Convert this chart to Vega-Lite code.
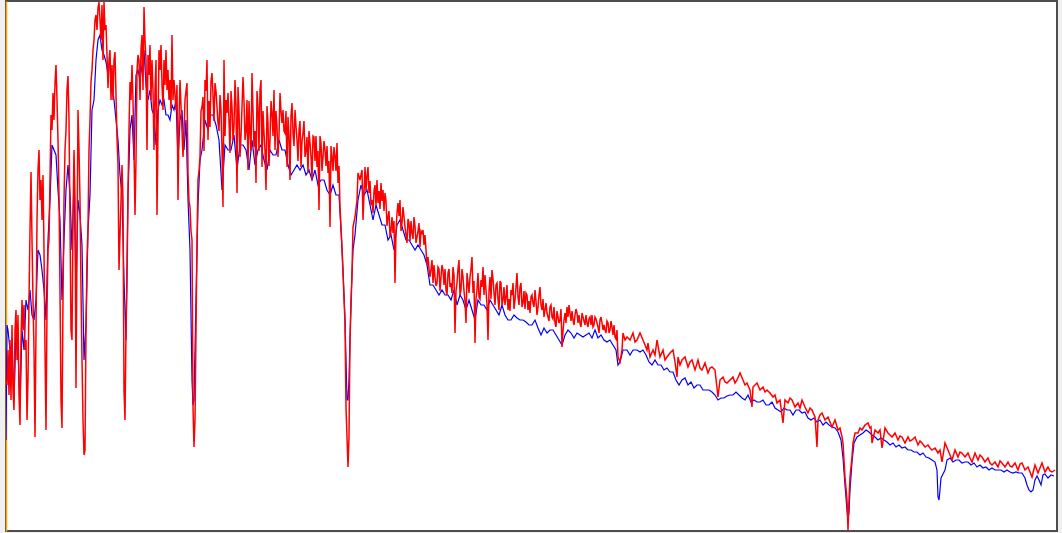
{
"$schema":"https://vega.github.io/schema/vega-lite/v6.json",
"width":1051,"height":530,
"autosize":{"type":"none"},
"padding":{"left":6,"top":1,"right":5,"bottom":2},
"background":"#f0f0f0",
"config":{"view":{"fill":"white","stroke":"#4d4d4d","strokeWidth":2}},
"datasets":{
"blue":[
{"ch":6,"flux":91},{"ch":7,"flux":206},{"ch":8,"flux":201},{"ch":10,"flux":181},{"ch":12,"flux":186},{"ch":14,"flux":131},{"ch":16,"flux":201},{"ch":18,"flux":181},{"ch":20,"flux":126},{"ch":22,"flux":201},{"ch":24,"flux":181},{"ch":26,"flux":231},{"ch":28,"flux":221},{"ch":30,"flux":241},{"ch":32,"flux":216},{"ch":34,"flux":211},{"ch":36,"flux":231},{"ch":38,"flux":281},{"ch":40,"flux":276},{"ch":42,"flux":261},{"ch":44,"flux":241},{"ch":46,"flux":211},{"ch":48,"flux":291},{"ch":50,"flux":331},{"ch":52,"flux":386},{"ch":54,"flux":381},{"ch":56,"flux":376},{"ch":58,"flux":341},{"ch":60,"flux":311},{"ch":62,"flux":231},{"ch":64,"flux":291},{"ch":66,"flux":341},{"ch":68,"flux":366},{"ch":70,"flux":336},{"ch":72,"flux":281},{"ch":74,"flux":351},{"ch":76,"flux":241},{"ch":78,"flux":331},{"ch":80,"flux":316},{"ch":82,"flux":286},{"ch":84,"flux":171},{"ch":86,"flux":206},{"ch":88,"flux":301},{"ch":90,"flux":336},{"ch":92,"flux":421},{"ch":94,"flux":431},{"ch":96,"flux":471},{"ch":98,"flux":491},{"ch":100,"flux":496},{"ch":102,"flux":481},{"ch":104,"flux":476},{"ch":106,"flux":469},{"ch":108,"flux":456},{"ch":110,"flux":471},{"ch":112,"flux":446},{"ch":114,"flux":431},{"ch":116,"flux":411},{"ch":118,"flux":391},{"ch":120,"flux":356},{"ch":122,"flux":336},{"ch":124,"flux":251},{"ch":126,"flux":191},{"ch":128,"flux":336},{"ch":130,"flux":401},{"ch":132,"flux":416},{"ch":134,"flux":371},{"ch":136,"flux":456},{"ch":138,"flux":461},{"ch":140,"flux":451},{"ch":142,"flux":466},{"ch":144,"flux":481},{"ch":146,"flux":446},{"ch":148,"flux":431},{"ch":150,"flux":441},{"ch":152,"flux":421},{"ch":154,"flux":416},{"ch":156,"flux":386},{"ch":158,"flux":421},{"ch":160,"flux":431},{"ch":162,"flux":426},{"ch":164,"flux":431},{"ch":166,"flux":416},{"ch":168,"flux":416},{"ch":170,"flux":411},{"ch":172,"flux":426},{"ch":174,"flux":421},{"ch":176,"flux":431},{"ch":178,"flux":371},{"ch":180,"flux":411},
{"ch":182,"flux":421},{"ch":184,"flux":381},{"ch":186,"flux":411},{"ch":188,"flux":331},{"ch":190,"flux":281},{"ch":192,"flux":151},{"ch":193,"flux":126},{"ch":194,"flux":131},{"ch":196,"flux":231},{"ch":198,"flux":326},{"ch":200,"flux":371},{"ch":202,"flux":381},{"ch":205,"flux":411},{"ch":208,"flux":401},{"ch":210,"flux":416},{"ch":213,"flux":416},{"ch":216,"flux":406},{"ch":219,"flux":391},{"ch":222,"flux":341},{"ch":225,"flux":386},{"ch":228,"flux":381},{"ch":231,"flux":381},{"ch":234,"flux":396},{"ch":237,"flux":361},{"ch":240,"flux":386},{"ch":243,"flux":386},{"ch":246,"flux":381},{"ch":249,"flux":361},{"ch":252,"flux":391},{"ch":255,"flux":366},{"ch":258,"flux":381},{"ch":261,"flux":386},{"ch":264,"flux":371},{"ch":267,"flux":361},{"ch":270,"flux":381},{"ch":273,"flux":376},{"ch":276,"flux":376},{"ch":279,"flux":391},{"ch":282,"flux":381},{"ch":285,"flux":381},{"ch":288,"flux":366},{"ch":291,"flux":356},{"ch":294,"flux":361},{"ch":297,"flux":366},{"ch":300,"flux":361},{"ch":303,"flux":366},{"ch":306,"flux":356},{"ch":309,"flux":361},{"ch":312,"flux":351},{"ch":315,"flux":361},{"ch":318,"flux":346},{"ch":321,"flux":351},{"ch":324,"flux":351},{"ch":327,"flux":341},{"ch":330,"flux":336},{"ch":333,"flux":346},{"ch":336,"flux":336},{"ch":339,"flux":336},{"ch":341,"flux":301},{"ch":343,"flux":261},{"ch":345,"flux":211},{"ch":347,"flux":131},{"ch":348,"flux":131},{"ch":349,"flux":151},{"ch":351,"flux":231},{"ch":353,"flux":281},{"ch":355,"flux":296},{"ch":358,"flux":331},{"ch":361,"flux":346},{"ch":364,"flux":336},{"ch":367,"flux":341},{"ch":370,"flux":326},{"ch":373,"flux":311},{"ch":376,"flux":326},{"ch":379,"flux":316},{"ch":382,"flux":306},{"ch":385,"flux":306},{"ch":388,"flux":291},{"ch":391,"flux":296},{"ch":394,"flux":281},{"ch":397,"flux":306},{"ch":400,"flux":311},{"ch":403,"flux":301},{"ch":406,"flux":291},{"ch":409,"flux":291},{"ch":412,"flux":286},{"ch":415,"flux":281},{"ch":418,"flux":286},{"ch":421,"flux":281},{"ch":424,"flux":276},{"ch":427,"flux":266},{"ch":430,"flux":246},{"ch":433,"flux":246},{"ch":436,"flux":241},{"ch":439,"flux":236},{"ch":442,"flux":241},{"ch":445,"flux":236},{"ch":448,"flux":236},{"ch":451,"flux":231},{"ch":454,"flux":241},{"ch":457,"flux":226},{"ch":460,"flux":236},{"ch":463,"flux":231},{"ch":466,"flux":221},{"ch":469,"flux":231},{"ch":472,"flux":221},{"ch":475,"flux":211},{"ch":478,"flux":231},{"ch":481,"flux":226},{"ch":484,"flux":226},{"ch":487,"flux":221},{"ch":490,"flux":231},{"ch":493,"flux":226},{"ch":496,"flux":221},{"ch":499,"flux":216},{"ch":502,"flux":226},{"ch":505,"flux":216},{"ch":508,"flux":211},{"ch":511,"flux":211},{"ch":514,"flux":216},{"ch":517,"flux":213},{"ch":520,"flux":211},{"ch":523,"flux":211},{"ch":526,"flux":209},{"ch":529,"flux":206},{"ch":532,"flux":206},{"ch":535,"flux":211},{"ch":538,"flux":203},{"ch":541,"flux":196},{"ch":544,"flux":203},{"ch":547,"flux":198},{"ch":550,"flux":201},{"ch":553,"flux":201},{"ch":556,"flux":196},{"ch":559,"flux":191},{"ch":562,"flux":186},{"ch":565,"flux":196},{"ch":568,"flux":201},{"ch":571,"flux":198},{"ch":574,"flux":193},{"ch":577,"flux":198},{"ch":580,"flux":196},{"ch":583,"flux":194},{"ch":586,"flux":196},{"ch":589,"flux":198},{"ch":592,"flux":193},{"ch":595,"flux":201},{"ch":598,"flux":193},{"ch":601,"flux":196},{"ch":604,"flux":191},{"ch":607,"flux":189},{"ch":610,"flux":191},{"ch":613,"flux":186},{"ch":616,"flux":181},{"ch":618,"flux":166},{"ch":620,"flux":169},{"ch":623,"flux":181},{"ch":627,"flux":181},{"ch":630,"flux":176},{"ch":633,"flux":181},{"ch":637,"flux":181},{"ch":640,"flux":179},{"ch":643,"flux":181},{"ch":646,"flux":176},{"ch":649,"flux":169},{"ch":652,"flux":166},{"ch":655,"flux":171},{"ch":658,"flux":166},{"ch":661,"flux":166},{"ch":664,"flux":161},{"ch":667,"flux":163},{"ch":670,"flux":159},{"ch":673,"flux":159},{"ch":676,"flux":151},{"ch":679,"flux":146},{"ch":682,"flux":151},{"ch":685,"flux":153},{"ch":688,"flux":146},{"ch":691,"flux":149},{"ch":694,"flux":143},{"ch":697,"flux":146},{"ch":700,"flux":146},{"ch":703,"flux":141},{"ch":706,"flux":141},{"ch":709,"flux":141},{"ch":712,"flux":139},{"ch":715,"flux":136},{"ch":718,"flux":131},{"ch":721,"flux":133},{"ch":724,"flux":133},{"ch":727,"flux":135},{"ch":730,"flux":136},{"ch":733,"flux":136},{"ch":736,"flux":139},{"ch":739,"flux":136},{"ch":742,"flux":133},{"ch":745,"flux":131},{"ch":748,"flux":136},{"ch":751,"flux":129},{"ch":754,"flux":131},{"ch":757,"flux":129},{"ch":760,"flux":129},{"ch":763,"flux":131},{"ch":766,"flux":126},{"ch":769,"flux":126},{"ch":772,"flux":129},{"ch":775,"flux":123},{"ch":778,"flux":121},{"ch":781,"flux":119},{"ch":784,"flux":123},{"ch":787,"flux":121},{"ch":790,"flux":121},{"ch":793,"flux":116},{"ch":796,"flux":121},{"ch":799,"flux":121},{"ch":802,"flux":118},{"ch":805,"flux":119},{"ch":808,"flux":113},{"ch":811,"flux":111},{"ch":814,"flux":113},{"ch":817,"flux":109},{"ch":820,"flux":111},{"ch":823,"flux":106},{"ch":826,"flux":109},{"ch":829,"flux":106},{"ch":832,"flux":104},{"ch":835,"flux":103},{"ch":838,"flux":99},{"ch":841,"flux":91},{"ch":843,"flux":73},{"ch":845,"flux":46},{"ch":847,"flux":21},{"ch":848,"flux":11},{"ch":849,"flux":19},{"ch":850,"flux":41},{"ch":852,"flux":69},{"ch":854,"flux":88},{"ch":857,"flux":94},{"ch":860,"flux":96},{"ch":863,"flux":98},{"ch":866,"flux":101},{"ch":869,"flux":99},{"ch":872,"flux":96},{"ch":875,"flux":94},{"ch":878,"flux":91},{"ch":881,"flux":93},{"ch":884,"flux":91},{"ch":887,"flux":89},{"ch":890,"flux":86},{"ch":893,"flux":88},{"ch":896,"flux":84},{"ch":899,"flux":86},{"ch":902,"flux":83},{"ch":905,"flux":84},{"ch":908,"flux":81},{"ch":911,"flux":81},{"ch":914,"flux":79},{"ch":917,"flux":79},{"ch":920,"flux":76},{"ch":923,"flux":78},{"ch":926,"flux":74},{"ch":929,"flux":73},{"ch":932,"flux":71},{"ch":935,"flux":69},{"ch":937,"flux":61},{"ch":938,"flux":34},{"ch":939,"flux":31},{"ch":940,"flux":41},{"ch":941,"flux":53},{"ch":943,"flux":57},{"ch":945,"flux":61},{"ch":947,"flux":71},{"ch":950,"flux":73},{"ch":953,"flux":69},{"ch":956,"flux":71},{"ch":959,"flux":71},{"ch":962,"flux":68},{"ch":965,"flux":69},{"ch":968,"flux":69},{"ch":971,"flux":66},{"ch":974,"flux":68},{"ch":977,"flux":64},{"ch":980,"flux":66},{"ch":983,"flux":63},{"ch":986,"flux":64},{"ch":989,"flux":61},{"ch":992,"flux":63},{"ch":995,"flux":61},{"ch":998,"flux":61},{"ch":1001,"flux":61},{"ch":1004,"flux":59},{"ch":1007,"flux":61},{"ch":1010,"flux":59},{"ch":1013,"flux":58},{"ch":1016,"flux":59},{"ch":1019,"flux":58},{"ch":1022,"flux":58},{"ch":1025,"flux":53},{"ch":1027,"flux":46},{"ch":1029,"flux":41},{"ch":1031,"flux":39},{"ch":1033,"flux":41},{"ch":1035,"flux":51},{"ch":1037,"flux":55},{"ch":1039,"flux":51},{"ch":1041,"flux":46},{"ch":1043,"flux":56},{"ch":1045,"flux":57},{"ch":1048,"flux":53},{"ch":1051,"flux":56},{"ch":1054,"flux":55}
],
"red":[
{"ch":6,"flux":151},{"ch":7,"flux":146},{"ch":8,"flux":181},{"ch":9,"flux":136},{"ch":10,"flux":191},{"ch":11,"flux":131},{"ch":12,"flux":206},{"ch":13,"flux":141},{"ch":14,"flux":121},{"ch":15,"flux":201},{"ch":16,"flux":221},{"ch":17,"flux":171},{"ch":18,"flux":216},{"ch":19,"flux":136},{"ch":20,"flux":106},{"ch":21,"flux":191},{"ch":22,"flux":231},{"ch":23,"flux":201},{"ch":24,"flux":226},{"ch":25,"flux":181},{"ch":26,"flux":191},{"ch":27,"flux":111},{"ch":28,"flux":151},{"ch":29,"flux":231},{"ch":30,"flux":301},{"ch":31,"flux":359},{"ch":32,"flux":291},{"ch":33,"flux":231},{"ch":34,"flux":181},{"ch":35,"flux":94},{"ch":36,"flux":201},{"ch":37,"flux":311},{"ch":38,"flux":361},{"ch":39,"flux":381},{"ch":40,"flux":331},{"ch":41,"flux":351},{"ch":42,"flux":311},{"ch":43,"flux":356},{"ch":44,"flux":281},{"ch":45,"flux":181},{"ch":46,"flux":101},{"ch":47,"flux":221},{"ch":48,"flux":281},{"ch":49,"flux":291},{"ch":50,"flux":351},{"ch":51,"flux":416},{"ch":52,"flux":401},{"ch":53,"flux":438},{"ch":54,"flux":411},{"ch":55,"flux":448},{"ch":56,"flux":466},{"ch":57,"flux":431},{"ch":58,"flux":391},{"ch":59,"flux":336},{"ch":60,"flux":241},{"ch":61,"flux":131},{"ch":62,"flux":103},{"ch":63,"flux":231},{"ch":64,"flux":331},{"ch":65,"flux":381},{"ch":66,"flux":401},{"ch":67,"flux":441},{"ch":68,"flux":455},{"ch":69,"flux":411},{"ch":70,"flux":311},{"ch":71,"flux":201},{"ch":72,"flux":191},{"ch":73,"flux":311},{"ch":74,"flux":381},{"ch":75,"flux":331},{"ch":76,"flux":143},{"ch":77,"flux":281},{"ch":78,"flux":421},{"ch":79,"flux":381},{"ch":80,"flux":331},{"ch":81,"flux":241},{"ch":82,"flux":171},{"ch":83,"flux":111},{"ch":84,"flux":76},{"ch":85,"flux":81},{"ch":86,"flux":201},{"ch":87,"flux":271},{"ch":88,"flux":303},{"ch":89,"flux":381},{"ch":90,"flux":411},{"ch":91,"flux":449},{"ch":92,"flux":461},{"ch":93,"flux":481},{"ch":94,"flux":491},{"ch":95,"flux":511},{"ch":96,"flux":516},{"ch":97,"flux":501},{"ch":98,"flux":523},{"ch":99,"flux":529},{"ch":100,"flux":511},{"ch":101,"flux":491},{"ch":102,"flux":526},{"ch":103,"flux":471},{"ch":104,"flux":529},{"ch":105,"flux":501},{"ch":106,"flux":506},{"ch":107,"flux":476},{"ch":108,"flux":443},{"ch":109,"flux":471},{"ch":110,"flux":481},{"ch":111,"flux":431},{"ch":112,"flux":466},{"ch":113,"flux":431},{"ch":114,"flux":471},{"ch":115,"flux":479},{"ch":116,"flux":436},{"ch":117,"flux":393},{"ch":118,"flux":366},{"ch":119,"flux":261},{"ch":120,"flux":296},{"ch":121,"flux":331},{"ch":122,"flux":366},{"ch":123,"flux":331},{"ch":124,"flux":141},{"ch":125,"flux":111},{"ch":126,"flux":201},{"ch":127,"flux":251},{"ch":128,"flux":341},{"ch":129,"flux":401},{"ch":130,"flux":449},{"ch":131,"flux":431},{"ch":132,"flux":466},{"ch":133,"flux":431},{"ch":134,"flux":381},{"ch":135,"flux":316},{"ch":136,"flux":371},{"ch":137,"flux":461},{"ch":138,"flux":476},{"ch":139,"flux":471},{"ch":140,"flux":431},{"ch":141,"flux":481},{"ch":142,"flux":496},{"ch":143,"flux":441},{"ch":144,"flux":524},{"ch":145,"flux":491},{"ch":146,"flux":471},{"ch":147,"flux":381},{"ch":148,"flux":476},{"ch":149,"flux":456},{"ch":150,"flux":486},{"ch":151,"flux":431},{"ch":152,"flux":471},{"ch":153,"flux":441},{"ch":154,"flux":381},{"ch":155,"flux":441},{"ch":156,"flux":471},{"ch":157,"flux":316},{"ch":158,"flux":401},{"ch":159,"flux":481},{"ch":160,"flux":461},{"ch":161,"flux":486},{"ch":162,"flux":446},{"ch":163,"flux":421},{"ch":164,"flux":471},{"ch":165,"flux":446},{"ch":166,"flux":481},{"ch":167,"flux":441},{"ch":168,"flux":461},{"ch":169,"flux":431},{"ch":170,"flux":451},{"ch":171,"flux":421},{"ch":172,"flux":496},{"ch":173,"flux":431},{"ch":174,"flux":451},{"ch":175,"flux":436},{"ch":176,"flux":421},{"ch":177,"flux":446},{"ch":178,"flux":331},{"ch":179,"flux":411},{"ch":180,"flux":451},
{"ch":183,"flux":374},{"ch":185,"flux":431},{"ch":187,"flux":448},{"ch":188,"flux":358},{"ch":190,"flux":324},{"ch":192,"flux":291},{"ch":193,"flux":124},{"ch":194,"flux":84},{"ch":195,"flux":111},{"ch":197,"flux":291},{"ch":198,"flux":351},{"ch":200,"flux":374},{"ch":202,"flux":424},{"ch":203,"flux":434},{"ch":205,"flux":451},{"ch":207,"flux":471},{"ch":208,"flux":391},{"ch":210,"flux":404},{"ch":212,"flux":458},{"ch":213,"flux":436},{"ch":215,"flux":448},{"ch":217,"flux":424},{"ch":218,"flux":408},{"ch":220,"flux":436},{"ch":222,"flux":381},{"ch":223,"flux":324},{"ch":224,"flux":471},{"ch":226,"flux":431},{"ch":227,"flux":418},{"ch":228,"flux":438},{"ch":230,"flux":378},{"ch":232,"flux":424},{"ch":233,"flux":391},{"ch":235,"flux":451},{"ch":237,"flux":338},{"ch":238,"flux":444},{"ch":240,"flux":374},{"ch":242,"flux":424},{"ch":243,"flux":454},{"ch":245,"flux":391},{"ch":247,"flux":431},{"ch":248,"flux":361},{"ch":250,"flux":398},{"ch":252,"flux":458},{"ch":254,"flux":384},{"ch":256,"flux":348},{"ch":258,"flux":424},{"ch":260,"flux":441},{"ch":261,"flux":451},{"ch":262,"flux":364},{"ch":264,"flux":398},{"ch":266,"flux":341},{"ch":268,"flux":408},{"ch":270,"flux":391},{"ch":272,"flux":418},{"ch":274,"flux":441},{"ch":275,"flux":381},{"ch":277,"flux":404},{"ch":278,"flux":374},{"ch":280,"flux":438},{"ch":282,"flux":408},{"ch":283,"flux":421},{"ch":285,"flux":398},{"ch":287,"flux":364},{"ch":288,"flux":414},{"ch":290,"flux":351},{"ch":292,"flux":428},{"ch":293,"flux":398},{"ch":295,"flux":421},{"ch":297,"flux":391},{"ch":299,"flux":401},{"ch":301,"flux":364},{"ch":303,"flux":398},{"ch":305,"flux":374},{"ch":307,"flux":394},{"ch":308,"flux":358},{"ch":310,"flux":388},{"ch":312,"flux":351},{"ch":314,"flux":394},{"ch":317,"flux":364},{"ch":319,"flux":321},{"ch":321,"flux":388},{"ch":323,"flux":374},{"ch":325,"flux":381},{"ch":328,"flux":358},{"ch":330,"flux":304},{"ch":332,"flux":374},{"ch":334,"flux":384},{"ch":337,"flux":388},{"ch":338,"flux":348},{"ch":340,"flux":324},{"ch":342,"flux":284},{"ch":343,"flux":258},{"ch":345,"flux":208},{"ch":346,"flux":124},{"ch":348,"flux":64},{"ch":349,"flux":94},{"ch":350,"flux":191},{"ch":352,"flux":258},{"ch":353,"flux":304},{"ch":355,"flux":314},{"ch":357,"flux":331},{"ch":358,"flux":358},{"ch":360,"flux":351},{"ch":362,"flux":361},{"ch":363,"flux":311},{"ch":365,"flux":364},
{"ch":368,"flux":364},{"ch":369,"flux":338},{"ch":372,"flux":331},{"ch":373,"flux":318},{"ch":375,"flux":346},{"ch":377,"flux":351},{"ch":378,"flux":328},{"ch":381,"flux":348},{"ch":383,"flux":341},{"ch":385,"flux":338},{"ch":388,"flux":314},{"ch":390,"flux":294},{"ch":392,"flux":314},{"ch":393,"flux":298},{"ch":395,"flux":248},{"ch":397,"flux":318},{"ch":398,"flux":328},{"ch":400,"flux":331},{"ch":402,"flux":308},{"ch":403,"flux":324},{"ch":405,"flux":304},{"ch":407,"flux":288},{"ch":409,"flux":308},{"ch":412,"flux":298},{"ch":414,"flux":314},{"ch":417,"flux":294},{"ch":419,"flux":308},{"ch":422,"flux":298},{"ch":423,"flux":301},{"ch":426,"flux":281},{"ch":428,"flux":274},{"ch":430,"flux":254},{"ch":432,"flux":271},{"ch":435,"flux":254},{"ch":437,"flux":248},{"ch":438,"flux":264},{"ch":441,"flux":254},{"ch":443,"flux":261},{"ch":446,"flux":241},{"ch":448,"flux":258},{"ch":451,"flux":248},{"ch":453,"flux":264},{"ch":455,"flux":198},{"ch":457,"flux":248},{"ch":459,"flux":271},{"ch":461,"flux":241},{"ch":463,"flux":254},{"ch":466,"flux":208},{"ch":468,"flux":248},{"ch":470,"flux":254},{"ch":472,"flux":274},{"ch":473,"flux":238},{"ch":475,"flux":188},{"ch":477,"flux":241},{"ch":479,"flux":234},{"ch":481,"flux":251},{"ch":483,"flux":264},{"ch":486,"flux":241},{"ch":488,"flux":191},{"ch":490,"flux":254},{"ch":492,"flux":261},{"ch":494,"flux":238},{"ch":497,"flux":248},{"ch":499,"flux":221},{"ch":501,"flux":248},{"ch":503,"flux":231},{"ch":506,"flux":234},{"ch":508,"flux":221},{"ch":511,"flux":241},{"ch":513,"flux":248},{"ch":515,"flux":231},{"ch":517,"flux":258},{"ch":518,"flux":234},{"ch":521,"flux":248},{"ch":523,"flux":228},{"ch":526,"flux":238},{"ch":528,"flux":221},{"ch":531,"flux":234},{"ch":533,"flux":228},{"ch":535,"flux":241},{"ch":538,"flux":224},{"ch":540,"flux":244},{"ch":542,"flux":221},{"ch":545,"flux":221},{"ch":548,"flux":214},{"ch":550,"flux":224},{"ch":552,"flux":214},{"ch":555,"flux":208},{"ch":558,"flux":214},{"ch":560,"flux":211},{"ch":562,"flux":184},{"ch":564,"flux":211},{"ch":567,"flux":224},{"ch":570,"flux":218},{"ch":573,"flux":211},{"ch":575,"flux":216},{"ch":577,"flux":218},{"ch":580,"flux":208},{"ch":583,"flux":214},{"ch":585,"flux":206},{"ch":587,"flux":208},{"ch":590,"flux":214},{"ch":593,"flux":204},{"ch":595,"flux":214},{"ch":597,"flux":208},{"ch":598,"flux":204},{"ch":600,"flux":211},{"ch":602,"flux":208},{"ch":603,"flux":201},{"ch":605,"flux":201},
{"ch":608,"flux":208},{"ch":610,"flux":201},{"ch":612,"flux":204},{"ch":615,"flux":194},{"ch":617,"flux":201},{"ch":618,"flux":174},{"ch":620,"flux":169},{"ch":622,"flux":181},{"ch":623,"flux":198},{"ch":625,"flux":191},{"ch":627,"flux":194},{"ch":630,"flux":191},{"ch":633,"flux":198},{"ch":635,"flux":189},{"ch":637,"flux":191},{"ch":640,"flux":198},{"ch":643,"flux":191},{"ch":645,"flux":186},{"ch":647,"flux":181},{"ch":648,"flux":188},{"ch":650,"flux":174},{"ch":653,"flux":181},{"ch":655,"flux":176},{"ch":657,"flux":191},{"ch":660,"flux":174},{"ch":663,"flux":181},{"ch":665,"flux":171},{"ch":667,"flux":174},{"ch":670,"flux":178},{"ch":673,"flux":181},{"ch":675,"flux":169},{"ch":677,"flux":154},{"ch":678,"flux":174},{"ch":680,"flux":166},{"ch":682,"flux":171},{"ch":685,"flux":174},{"ch":688,"flux":164},{"ch":690,"flux":169},{"ch":692,"flux":171},{"ch":695,"flux":161},{"ch":698,"flux":171},{"ch":700,"flux":163},{"ch":702,"flux":161},{"ch":705,"flux":168},{"ch":708,"flux":158},{"ch":710,"flux":163},{"ch":712,"flux":164},{"ch":715,"flux":161},{"ch":718,"flux":134},{"ch":720,"flux":151},{"ch":723,"flux":154},{"ch":725,"flux":149},{"ch":727,"flux":148},{"ch":730,"flux":151},{"ch":733,"flux":154},{"ch":735,"flux":148},{"ch":737,"flux":151},{"ch":740,"flux":158},{"ch":743,"flux":151},{"ch":745,"flux":146},{"ch":747,"flux":148},{"ch":750,"flux":141},{"ch":752,"flux":124},{"ch":753,"flux":144},{"ch":755,"flux":146},{"ch":757,"flux":148},{"ch":760,"flux":141},{"ch":763,"flux":144},{"ch":765,"flux":139},{"ch":767,"flux":141},{"ch":770,"flux":138},{"ch":773,"flux":134},{"ch":775,"flux":136},{"ch":777,"flux":128},{"ch":780,"flux":131},{"ch":783,"flux":108},{"ch":785,"flux":131},{"ch":788,"flux":128},{"ch":790,"flux":133},{"ch":792,"flux":131},{"ch":795,"flux":124},{"ch":798,"flux":128},{"ch":800,"flux":123},{"ch":802,"flux":131},{"ch":805,"flux":124},{"ch":808,"flux":118},{"ch":810,"flux":123},{"ch":812,"flux":121},{"ch":815,"flux":114},{"ch":817,"flux":84},{"ch":818,"flux":111},{"ch":820,"flux":116},{"ch":822,"flux":118},{"ch":825,"flux":111},{"ch":828,"flux":114},{"ch":830,"flux":109},{"ch":832,"flux":104},{"ch":835,"flux":111},{"ch":838,"flux":101},{"ch":840,"flux":103},{"ch":842,"flux":94},{"ch":843,"flux":88},
{"ch":845,"flux":54},{"ch":847,"flux":31},{"ch":848,"flux":1},{"ch":849,"flux":31},{"ch":850,"flux":54},{"ch":852,"flux":74},{"ch":853,"flux":88},{"ch":855,"flux":98},{"ch":858,"flux":98},{"ch":860,"flux":103},{"ch":862,"flux":101},{"ch":865,"flux":106},{"ch":868,"flux":108},{"ch":870,"flux":103},{"ch":871,"flux":104},{"ch":872,"flux":88},{"ch":875,"flux":101},{"ch":878,"flux":98},{"ch":880,"flux":101},{"ch":882,"flux":83},{"ch":885,"flux":103},{"ch":888,"flux":98},{"ch":890,"flux":96},{"ch":892,"flux":94},{"ch":895,"flux":98},{"ch":898,"flux":91},{"ch":900,"flux":95},{"ch":902,"flux":94},{"ch":905,"flux":88},{"ch":908,"flux":94},{"ch":910,"flux":90},{"ch":912,"flux":91},{"ch":915,"flux":94},{"ch":918,"flux":86},{"ch":920,"flux":90},{"ch":922,"flux":88},{"ch":925,"flux":84},{"ch":928,"flux":86},{"ch":930,"flux":83},{"ch":932,"flux":81},{"ch":935,"flux":83},{"ch":938,"flux":78},{"ch":940,"flux":81},{"ch":942,"flux":69},{"ch":945,"flux":88},{"ch":948,"flux":81},{"ch":950,"flux":76},{"ch":952,"flux":71},{"ch":955,"flux":81},{"ch":958,"flux":74},{"ch":960,"flux":79},{"ch":962,"flux":78},{"ch":965,"flux":74},{"ch":968,"flux":78},{"ch":970,"flux":73},{"ch":972,"flux":69},{"ch":975,"flux":78},{"ch":978,"flux":71},{"ch":980,"flux":76},{"ch":982,"flux":74},{"ch":985,"flux":69},{"ch":988,"flux":73},{"ch":990,"flux":68},{"ch":992,"flux":66},{"ch":995,"flux":69},{"ch":998,"flux":64},{"ch":1000,"flux":70},{"ch":1002,"flux":68},{"ch":1005,"flux":64},{"ch":1008,"flux":69},{"ch":1010,"flux":65},{"ch":1012,"flux":64},{"ch":1015,"flux":68},{"ch":1018,"flux":61},{"ch":1020,"flux":67},{"ch":1022,"flux":68},{"ch":1025,"flux":61},{"ch":1028,"flux":64},{"ch":1030,"flux":59},{"ch":1032,"flux":54},{"ch":1035,"flux":66},{"ch":1038,"flux":58},{"ch":1040,"flux":63},{"ch":1042,"flux":68},{"ch":1045,"flux":59},{"ch":1048,"flux":64},{"ch":1050,"flux":60},{"ch":1052,"flux":59},{"ch":1055,"flux":61},
{"ch":184,"flux":400},{"ch":186,"flux":440},{"ch":189,"flux":330},{"ch":191,"flux":300},{"ch":196,"flux":200},{"ch":199,"flux":360},{"ch":201,"flux":420},{"ch":204,"flux":380},{"ch":206,"flux":440},{"ch":209,"flux":430},{"ch":211,"flux":450},{"ch":214,"flux":410},{"ch":216,"flux":440},{"ch":219,"flux":400},{"ch":221,"flux":420},{"ch":225,"flux":395},{"ch":229,"flux":410},{"ch":231,"flux":440},{"ch":234,"flux":405},{"ch":236,"flux":425},{"ch":239,"flux":420},{"ch":241,"flux":395},{"ch":244,"flux":430},{"ch":246,"flux":400},{"ch":249,"flux":430},{"ch":251,"flux":380},{"ch":253,"flux":420},{"ch":255,"flux":400},{"ch":257,"flux":440},{"ch":259,"flux":380},{"ch":263,"flux":420},{"ch":265,"flux":380},{"ch":267,"flux":425},{"ch":269,"flux":365},{"ch":271,"flux":430},{"ch":273,"flux":395},{"ch":276,"flux":420},{"ch":279,"flux":395},{"ch":281,"flux":420},{"ch":284,"flux":400},{"ch":286,"flux":420},{"ch":289,"flux":395},{"ch":291,"flux":415},{"ch":294,"flux":385},{"ch":296,"flux":405},{"ch":298,"flux":370},{"ch":300,"flux":410},{"ch":302,"flux":390},{"ch":304,"flux":410},{"ch":306,"flux":380},{"ch":309,"flux":400},{"ch":311,"flux":375},{"ch":313,"flux":395},{"ch":315,"flux":370},{"ch":316,"flux":395},{"ch":318,"flux":380},{"ch":320,"flux":395},{"ch":322,"flux":360},{"ch":324,"flux":390},{"ch":326,"flux":365},{"ch":327,"flux":385},{"ch":329,"flux":370},{"ch":331,"flux":385},{"ch":333,"flux":360},{"ch":335,"flux":375},{"ch":336,"flux":360},{"ch":339,"flux":365},
{"ch":366,"flux":340},{"ch":367,"flux":355},{"ch":370,"flux":350},{"ch":371,"flux":326},{"ch":374,"flux":340},{"ch":376,"flux":325},{"ch":379,"flux":340},{"ch":380,"flux":322},{"ch":382,"flux":330},{"ch":384,"flux":320},{"ch":386,"flux":330},{"ch":387,"flux":305},{"ch":389,"flux":320},{"ch":391,"flux":300},{"ch":394,"flux":310},{"ch":396,"flux":300},{"ch":399,"flux":315},{"ch":401,"flux":300},{"ch":404,"flux":314},{"ch":406,"flux":296},{"ch":408,"flux":312},{"ch":410,"flux":290},{"ch":411,"flux":310},{"ch":413,"flux":292},{"ch":415,"flux":305},{"ch":416,"flux":288},{"ch":418,"flux":300},{"ch":420,"flux":284},{"ch":421,"flux":300},{"ch":424,"flux":286},{"ch":425,"flux":296},{"ch":427,"flux":266},{"ch":429,"flux":262},
{"ch":431,"flux":262},{"ch":433,"flux":248},{"ch":434,"flux":266},{"ch":436,"flux":245},{"ch":439,"flux":262},{"ch":440,"flux":240},{"ch":442,"flux":266},{"ch":444,"flux":246},{"ch":445,"flux":262},{"ch":447,"flux":236},{"ch":449,"flux":262},{"ch":450,"flux":244},{"ch":452,"flux":238},{"ch":454,"flux":256},{"ch":456,"flux":240},{"ch":458,"flux":262},{"ch":460,"flux":236},{"ch":462,"flux":262},{"ch":464,"flux":240},{"ch":465,"flux":230},{"ch":467,"flux":258},{"ch":469,"flux":238},{"ch":471,"flux":262},{"ch":474,"flux":250},{"ch":476,"flux":232},{"ch":478,"flux":258},{"ch":480,"flux":232},{"ch":482,"flux":244},{"ch":484,"flux":236},{"ch":485,"flux":256},{"ch":487,"flux":226},{"ch":489,"flux":240},{"ch":491,"flux":232},{"ch":493,"flux":252},{"ch":495,"flux":226},{"ch":496,"flux":246},{"ch":498,"flux":232},{"ch":500,"flux":250},{"ch":502,"flux":226},{"ch":504,"flux":244},{"ch":505,"flux":226},{"ch":507,"flux":246},{"ch":509,"flux":232},{"ch":510,"flux":220},{"ch":512,"flux":236},{"ch":514,"flux":222},{"ch":516,"flux":244},{"ch":519,"flux":226},{"ch":520,"flux":244},{"ch":522,"flux":224},{"ch":524,"flux":240},{"ch":525,"flux":222},{"ch":527,"flux":236},{"ch":529,"flux":230},{"ch":530,"flux":218},{"ch":532,"flux":236},{"ch":534,"flux":224},{"ch":536,"flux":230},{"ch":537,"flux":216},{"ch":539,"flux":236},{"ch":541,"flux":226},{"ch":543,"flux":232},{"ch":544,"flux":214},{"ch":546,"flux":228},{"ch":547,"flux":218},{"ch":549,"flux":210},{"ch":551,"flux":226},{"ch":553,"flux":212},{"ch":554,"flux":224},{"ch":556,"flux":204},{"ch":557,"flux":220},{"ch":559,"flux":208},{"ch":561,"flux":222},{"ch":563,"flux":200},{"ch":565,"flux":218},{"ch":566,"flux":208},{"ch":568,"flux":214},{"ch":569,"flux":226},{"ch":571,"flux":210},{"ch":572,"flux":220},{"ch":574,"flux":206},{"ch":576,"flux":222},{"ch":578,"flux":208},{"ch":579,"flux":216},{"ch":581,"flux":204},{"ch":582,"flux":218},{"ch":584,"flux":210},{"ch":586,"flux":216},{"ch":588,"flux":204},{"ch":589,"flux":212},{"ch":591,"flux":206},{"ch":592,"flux":216},{"ch":594,"flux":206},{"ch":596,"flux":212},{"ch":599,"flux":198},{"ch":601,"flux":214},{"ch":604,"flux":206},{"ch":606,"flux":198},{"ch":607,"flux":210},{"ch":609,"flux":198},{"ch":611,"flux":210},{"ch":613,"flux":196},{"ch":614,"flux":206},{"ch":616,"flux":192}
]},
"layer":[
{"data":{"name":"blue"},"mark":{"type":"line","color":"#0000ff","strokeWidth":1.2,"clip":true},
"encoding":{"x":{"field":"ch","type":"quantitative","scale":{"domain":[6,1057],"nice":false,"zero":false},"axis":null},
"y":{"field":"flux","type":"quantitative","scale":{"domain":[0,530],"nice":false},"axis":{"domainColor":"#ffa500","domainWidth":1.5,"labels":false,"ticks":false,"grid":false,"title":null}}}},
{"data":{"name":"red"},"mark":{"type":"line","color":"#ff0000","strokeWidth":1.5,"clip":true},
"encoding":{"x":{"field":"ch","type":"quantitative"},"y":{"field":"flux","type":"quantitative"}}}
]}
